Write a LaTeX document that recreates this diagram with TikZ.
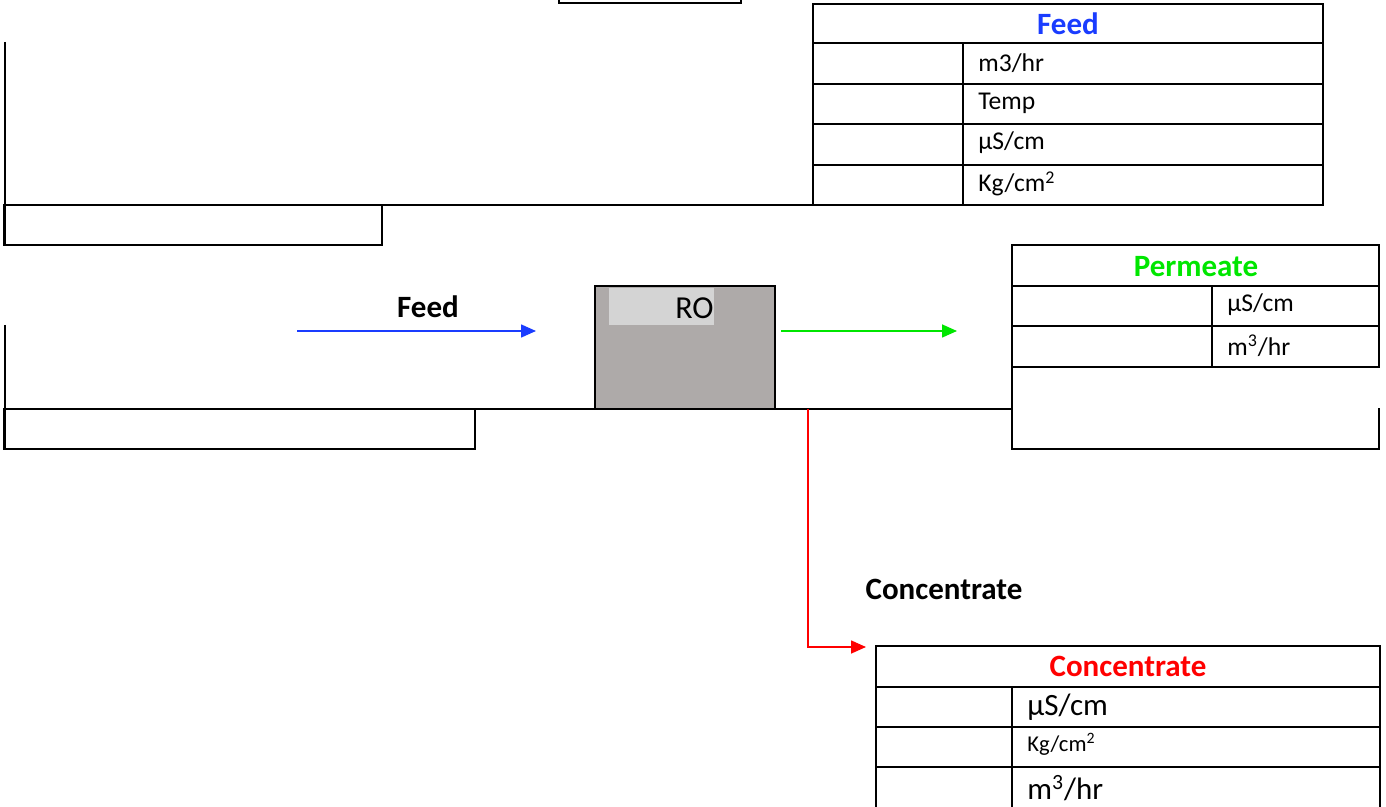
\documentclass[tikz,border=0pt]{standalone}
\usepackage{fontspec}
\setmainfont{Carlito}
\usetikzlibrary{arrows.meta}

\definecolor{feedblue}{RGB}{26,60,255}
\definecolor{permgreen}{RGB}{0,230,0}
\definecolor{concred}{RGB}{255,0,0}
\definecolor{rogray}{RGB}{174,170,169}
\definecolor{rolight}{RGB}{212,212,212}

\tikzset{
  frame/.style={line width=1.2pt, black},
  flow/.style={line width=0.8pt, -{Triangle[length=7.5pt,width=6.5pt]}},
  head/.style={font=\fontsize{15.5}{18}\selectfont\bfseries},
  unit/.style={anchor=west, inner sep=0pt, font=\fontsize{12.8}{15}\selectfont},
  bigunit/.style={anchor=west, inner sep=0pt, font=\fontsize{15.5}{18}\selectfont},
  smallunit/.style={anchor=west, inner sep=0pt, font=\fontsize{11.3}{13}\selectfont},
}

\begin{document}
\begin{tikzpicture}[x=0.5pt,y=-0.5pt]
  \useasboundingbox (0,0) rectangle (1386,807);
  \clip (0,0) rectangle (1386,807);

  % top box
  \draw[frame] (559,-5) -- (559,3) -- (741,3) -- (741,-5);

  % feed table
  \draw[frame] (813,4) rectangle (1323,205);
  \draw[frame] (813,43) -- (1323,43);
  \draw[frame] (813,84) -- (1323,84);
  \draw[frame] (813,124) -- (1323,124);
  \draw[frame] (813,165) -- (1323,165);
  \draw[frame] (963,43) -- (963,205);
  \node[head, text=feedblue] (feedhead) at (1068,24) {Feed};
  \node[unit] (feedflow) at (978,63) {m3/hr};
  \node[unit] (feedtemp) at (978,103) {Temp};
  \node[unit] (feedcond) at (978,143) {µS/cm};
  \node[unit] (feedpres) at (978,184) {Kg/cm\textsuperscript{2}};

  % upper left frame
  \draw[frame] (5,42) -- (5,245);
  \draw[frame] (4,205) -- (813,205);
  \draw[frame] (4,205) rectangle (382,245);

  % lower left frame
  \draw[frame] (5,325) -- (5,449);
  \draw[frame] (4,409) -- (1012,409);
  \draw[frame] (4,409) rectangle (475,449);

  % RO unit
  \node[draw, line width=1.2pt, fill=rogray, minimum width=90pt, minimum height=61.5pt,
        inner sep=0pt] (ro) at (685,347.5) {};
  \fill[rolight] (609,288) rectangle (714,325);
  \node[font=\fontsize{16}{19}\selectfont, anchor=east, inner sep=0pt] (rolabel) at (714,308) {RO};

  % feed in
  \coordinate (feedstart) at (297,331);
  \coordinate (feedend) at (536,331);
  \draw[flow, feedblue] (feedstart) -- (feedend);
  \node[head] (feedlabel) at (428,307) {Feed};

  % permeate out
  \coordinate (permstart) at (781,331);
  \coordinate (permend) at (957,331);
  \draw[flow, permgreen] (permstart) -- (permend);

  % permeate table
  \draw[frame] (1012,245) rectangle (1379,367);
  \draw[frame] (1012,286) -- (1379,286);
  \draw[frame] (1012,326) -- (1379,326);
  \draw[frame] (1212,286) -- (1212,367);
  \draw[frame] (1012,367) -- (1012,449) -- (1379,449) -- (1379,408);
  \node[head, text=permgreen] (permhead) at (1196,267) {Permeate};
  \node[unit] (permcond) at (1227,305) {µS/cm};
  \node[unit] (permflow) at (1227,346) {m\textsuperscript{3}/hr};

  % concentrate out
  \coordinate (concstart) at (808,409);
  \coordinate (concend) at (866,647);
  \draw[flow, concred] (concstart) |- (concend);
  \node[head] (conclabel) at (944,589) {Concentrate};

  % concentrate table
  \draw[frame] (876,646) rectangle (1380,812);
  \draw[frame] (876,687) -- (1380,687);
  \draw[frame] (876,727) -- (1380,727);
  \draw[frame] (876,767) -- (1380,767);
  \draw[frame] (1012,687) -- (1012,812);
  \node[head, text=concred] (conchead) at (1128,666) {Concentrate};
  \node[bigunit] (conccond) at (1027,707) {µS/cm};
  \node[smallunit] (concpres) at (1027,744) {Kg/cm\textsuperscript{2}};
  \node[bigunit] (concflow) at (1027,788) {m\textsuperscript{3}/hr};
\end{tikzpicture}
\end{document}
